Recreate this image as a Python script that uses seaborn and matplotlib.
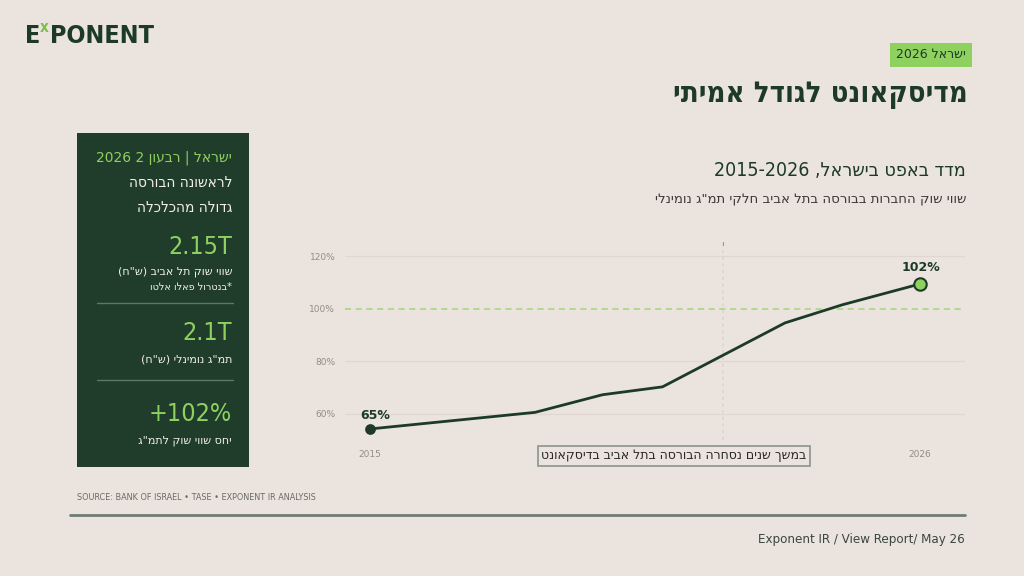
import re

import matplotlib
matplotlib.use("Agg")
import matplotlib.pyplot as plt
import pandas as pd
import seaborn as sns
from matplotlib.lines import Line2D
from matplotlib.patches import Rectangle

# chart data
years = [2015.0, 2018.3, 2019.65, 2020.85, 2023.3, 2024.45, 2026.0]
ratio = [54.3, 60.6, 67.3, 70.3, 94.6, 101.5, 109.4]
y_ticks = [60, 80, 100, 120]
x_ticks = [2015, 2026]
start_label = "65%"
end_label = "102%"
marker_year = 2022.05
note_text = "במשך שנים נסחרה הבורסה בתל אביב בדיסקאונט"

badge_text = "ישראל 2026"
main_title = "מדיסקאונט לגודל אמיתי"
chart_title = "מדד באפט בישראל, 2015-2026"
chart_subtitle = "שווי שוק החברות בבורסה בתל אביב חלקי תמ\"ג נומינלי"

panel_header = "ישראל | רבעון 2 2026"
panel_title = ["לראשונה הבורסה", "גדולה מהכלכלה"]
kpi_values = ["2.15T", "2.1T", "+102%"]
kpi_labels = [["שווי שוק תל אביב (ש\"ח)", "*בנטרול פאלו אלטו"],
              ["תמ\"ג נומינלי (ש\"ח)"],
              ["יחס שווי שוק לתמ\"ג"]]

source_text = "SOURCE: BANK OF ISRAEL \u2022 TASE \u2022 EXPONENT IR ANALYSIS"
footer_text = "Exponent IR / View Report/ May 26"

BG = "#ebe3de"
DARK = "#1c3a27"
PANEL = "#1f3d2a"
LIME = "#8fd15f"
COND = dict(family=["DejaVu Sans"], fontstretch="condensed")


def rtl(s):
    # matplotlib has no bidi: reverse, then put LTR runs back in order
    r = s[::-1]
    r = re.sub(r"[0-9A-Za-z.\-%+]+", lambda m: m.group(0)[::-1], r)
    return r.translate(str.maketrans("()", ")("))


def px(x, y):
    return x / 1024, 1 - y / 576


def main():
    sns.set_theme(style="white")
    plt.rcParams["font.family"] = ["DejaVu Sans"]

    fig = plt.figure(figsize=(10.24, 5.76), dpi=100)
    fig.patch.set_facecolor(BG)

    def T(x, y, s, **kw):
        kw.setdefault("va", "center")
        fig.text(*px(x, y), s, **kw)

    # logo
    T(25, 36, "E", fontsize=18, fontweight="bold", color=DARK, **COND)
    T(40, 27, "x", fontsize=11, fontweight="bold", color="#7cc04c", **COND)
    T(50, 36, "PONENT", fontsize=18, fontweight="bold", color=DARK, **COND)

    # badge + main title
    T(931, 55, rtl(badge_text), ha="center", fontsize=9, color=DARK,
      bbox=dict(boxstyle="square,pad=0.45", fc=LIME, ec="none"))
    T(968, 95, rtl(main_title), ha="right", fontsize=21, fontweight="bold",
      color=DARK, **COND)

    T(966, 170, rtl(chart_title), ha="right", fontsize=14, color=DARK, **COND)
    T(966, 200, rtl(chart_subtitle), ha="right", fontsize=9.5, color="#3a3a36")

    # left panel
    fig.patches.append(Rectangle(px(77, 467), 172 / 1024, 334 / 576,
                                 transform=fig.transFigure, fc=PANEL, ec="none"))
    T(232, 158, rtl(panel_header), ha="right", fontsize=10, color=LIME)
    T(232, 183, rtl(panel_title[0]), ha="right", fontsize=11, color="#f2efe9", **COND)
    T(232, 207, rtl(panel_title[1]), ha="right", fontsize=11, color="#f2efe9", **COND)

    kpi_y = [247, 333, 414]
    label_y = [[272, 287], [359], [441]]
    for val, labels, vy, ly in zip(kpi_values, kpi_labels, kpi_y, label_y):
        T(232, vy, val, ha="right", fontsize=18, color=LIME, **COND)
        for i, (lab, yy) in enumerate(zip(labels, ly)):
            T(232, yy, rtl(lab), ha="right", fontsize=8 if i == 0 else 7,
              color="#f2efe9")
    for yy in [303, 380]:
        fig.lines.append(Line2D([97 / 1024, 233 / 1024], [1 - yy / 576] * 2,
                                transform=fig.transFigure, color="#5f7866", lw=1))

    # chart
    ax = fig.add_axes([345 / 1024, 1 - 440 / 576, 620 / 1024, 200 / 576])
    ax.set_facecolor(BG)
    df = pd.DataFrame({"year": years, "ratio": ratio})
    for v in y_ticks:
        if v == 100:
            ax.axhline(v, color="#a3d57a", lw=1.1, ls=(0, (4, 3)), zorder=1)
        else:
            ax.axhline(v, color="#e0d8d0", lw=0.9, zorder=1)
    ax.axvline(marker_year, color="#ddd6cf", lw=1.2, ls=(0, (2, 2)), zorder=1)
    ax.plot([marker_year, marker_year], [125.5, 124.2], color="#9a958f", lw=0.8)

    sns.lineplot(data=df, x="year", y="ratio", color=DARK, lw=2, ax=ax, zorder=3)
    ax.scatter(years[0], ratio[0], s=45, color=DARK, zorder=4)
    ax.scatter(years[-1], ratio[-1], s=80, color=LIME, edgecolor=DARK,
               linewidth=1.5, zorder=4)
    ax.annotate(start_label, (years[0], ratio[0]), xytext=(4, 9.5),
                textcoords="offset points", ha="center", va="center",
                fontsize=9, fontweight="bold", color=DARK)
    ax.annotate(end_label, (years[-1], ratio[-1]), xytext=(1, 12),
                textcoords="offset points", ha="center", va="center",
                fontsize=9, fontweight="bold", color=DARK)

    ax.set_xlim(2014.5, 2026.9)
    ax.set_ylim(50.1, 126.1)
    ax.set_yticks(y_ticks)
    ax.set_yticklabels([f"{v}%" for v in y_ticks])
    ax.set_xticks(x_ticks)
    ax.set_xticklabels([str(v) for v in x_ticks])
    ax.tick_params(axis="both", length=0, labelsize=6.5, labelcolor="#938d86")
    ax.tick_params(axis="y", pad=7)
    ax.tick_params(axis="x", pad=7)
    ax.set_xlabel("")
    ax.set_ylabel("")
    sns.despine(ax=ax, left=True, bottom=True)
    ax.grid(False)

    T(674, 456, rtl(note_text), ha="center", fontsize=9, color="#2a2a28",
      bbox=dict(boxstyle="square,pad=0.3", fc=BG, ec="#8a948c", lw=1.2))

    # footer
    T(77, 497, source_text, fontsize=6.5, color="#6b6b66", **COND)
    fig.lines.append(Line2D([70 / 1024, 965 / 1024], [1 - 515 / 576] * 2,
                            transform=fig.transFigure, color="#6e7d73", lw=2))
    T(965, 539, footer_text, ha="right", fontsize=9.5, color="#3b463f", **COND)

    fig.savefig("out.png", dpi=100, facecolor=BG)
    plt.close(fig)


if __name__ == "__main__":
    main()
